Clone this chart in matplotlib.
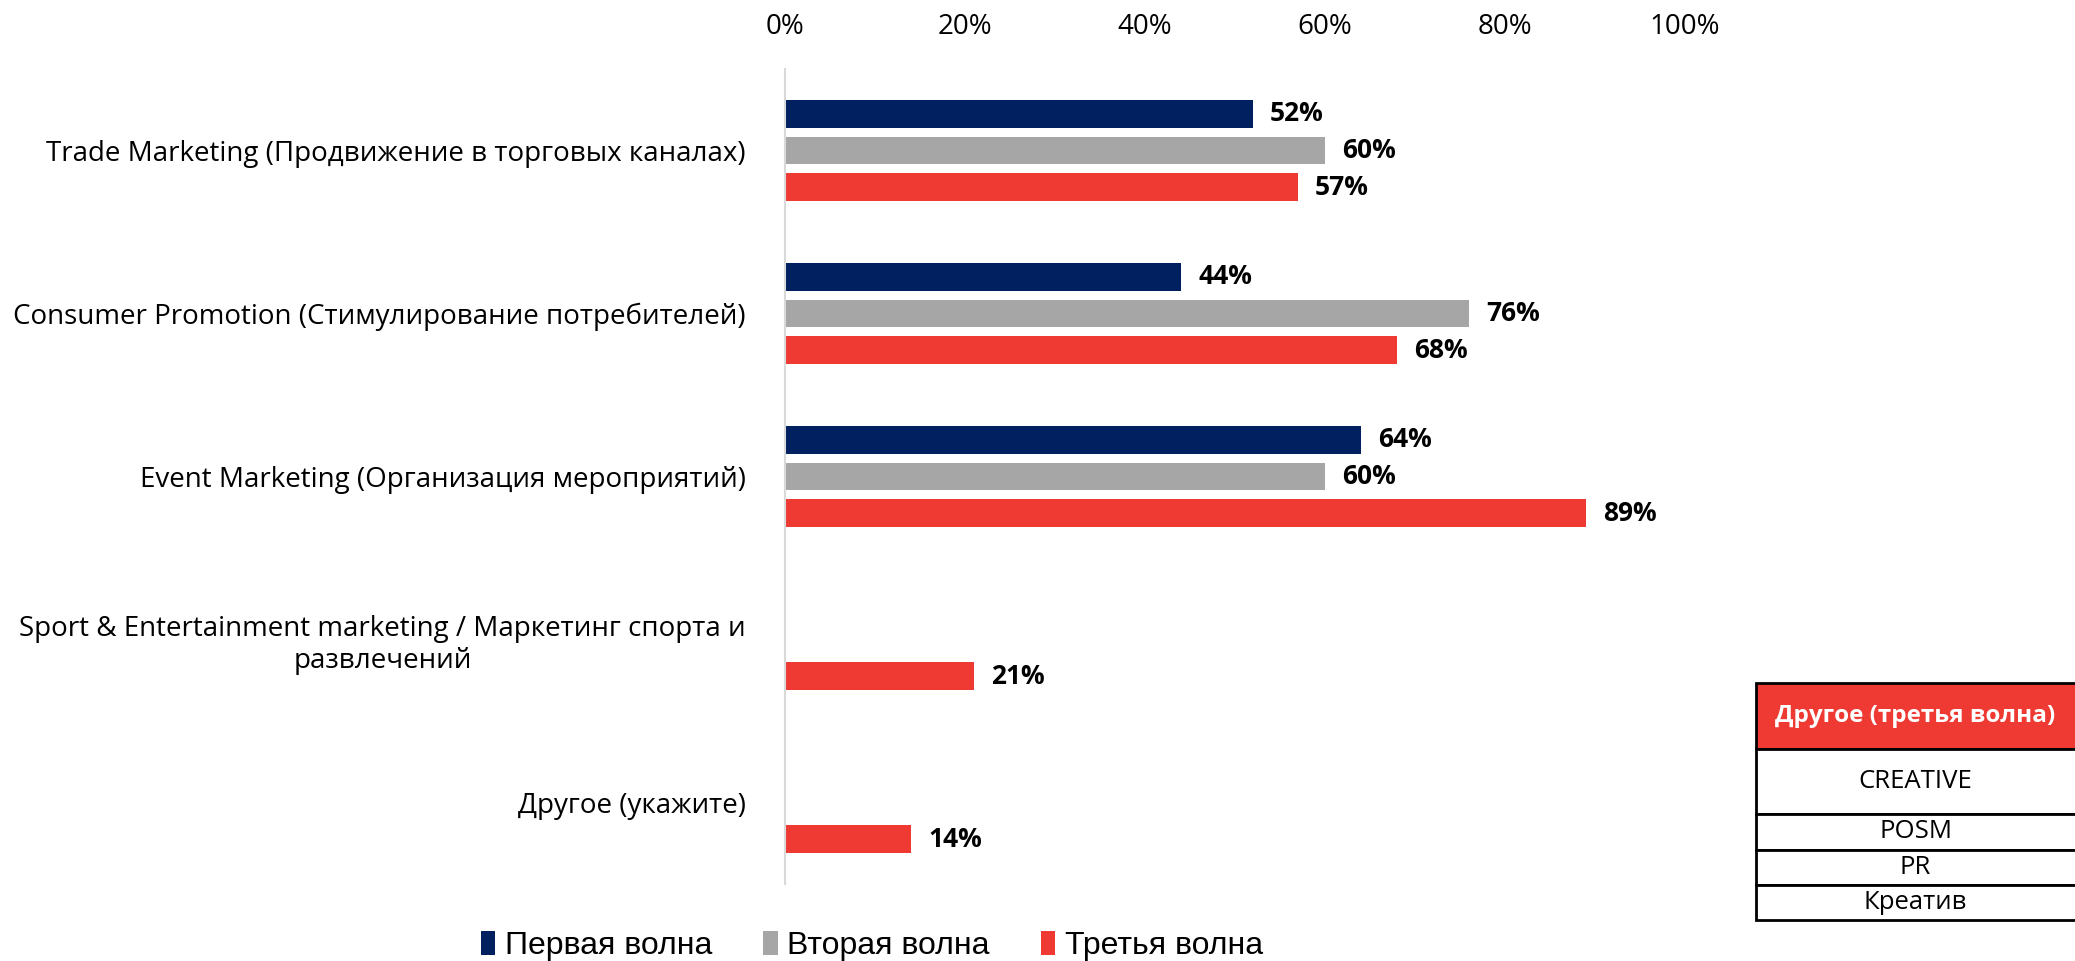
import numpy as np
import matplotlib.pyplot as plt
from matplotlib.patches import Rectangle, Patch

plt.rcParams['font.family'] = ['Open Sans', 'DejaVu Sans']

# data
categories = ['Trade Marketing (Продвижение в торговых каналах)',
              'Consumer Promotion (Стимулирование потребителей)',
              'Event Marketing (Организация мероприятий)',
              'Sport & Entertainment marketing / Маркетинг спорта и\nразвлечений',
              'Другое (укажите)']
wave1 = [52, 44, 64, np.nan, np.nan]
wave2 = [60, 76, 60, np.nan, np.nan]
wave3 = [57, 68, 89, 21, 14]
series_names = ['Первая волна', 'Вторая волна', 'Третья волна']
colors = ['#002060', '#A6A6A6', '#EE3A33']
xticks = [0, 20, 40, 60, 80, 100]

other_title = 'Другое (третья волна)'
other_items = ['CREATIVE', 'POSM', 'PR', 'Креатив']

W, H = 2075, 961
fig = plt.figure(figsize=(W / 100, H / 100), dpi=100)
ax = fig.add_axes([785 / W, 1 - 884 / H, 900 / W, 815 / H])

y = np.arange(len(categories)) + 0.5
step = 0.224
bh = 0.168
for i, (vals, c) in enumerate(zip([wave1, wave2, wave3], colors)):
    yy = y + (i - 1) * step
    ax.barh(yy, vals, height=bh, color=c, edgecolor='none')
    for v, yv in zip(vals, yy):
        if not np.isnan(v):
            ax.text(v + 1.9, yv, f'{v:.0f}%', va='center', ha='left',
                    fontsize=19, fontweight='bold', color='black')

ax.set_xlim(0, 100)
ax.set_ylim(len(categories), 0)
ax.xaxis.tick_top()
ax.set_xticks(xticks)
ax.set_xticklabels([f'{t}%' for t in xticks], fontsize=20)
ax.tick_params(axis='x', length=0, pad=20)
ax.set_yticks(y)
ax.set_yticklabels(categories, fontsize=20, multialignment='center')
ax.tick_params(axis='y', length=0, pad=28)
for s in ['top', 'right', 'bottom']:
    ax.spines[s].set_visible(False)
ax.spines['left'].set_color('#D9D9D9')
ax.spines['left'].set_linewidth(1.5)

# legend
handles = [Patch(facecolor=c, edgecolor='none') for c in colors]
fig.legend(handles, series_names, loc='center', bbox_to_anchor=(872 / W, 1 - 946 / H),
           ncol=3, frameon=False, handlelength=0.45, handleheight=0.8,
           handletextpad=0.3, columnspacing=1.6,
           prop={'family': ['Liberation Sans', 'DejaVu Sans'], 'size': 23})

# side table
tab = fig.add_axes([0, 0, 1, 1], zorder=5)
tab.set_xlim(0, W)
tab.set_ylim(H, 0)
tab.axis('off')
x0, x1 = 1756, 2080
rows = [683, 749, 814, 850, 885, 920]
tab.add_patch(Rectangle((x0, rows[0]), x1 - x0, rows[1] - rows[0],
                        facecolor='#EE3A33', edgecolor='black', lw=2))
tab.text((x0 + 2075) / 2, (rows[0] + rows[1]) / 2, other_title, color='white',
         fontsize=17.5, fontweight='bold', ha='center', va='center')
for k, item in enumerate(other_items):
    top, bot = rows[k + 1], rows[k + 2]
    tab.add_patch(Rectangle((x0, top), x1 - x0, bot - top,
                            facecolor='white', edgecolor='black', lw=2))
    tab.text((x0 + 2075) / 2, (top + bot) / 2, item, fontsize=18.5,
             ha='center', va='center')

fig.savefig('out.png', dpi=100)
